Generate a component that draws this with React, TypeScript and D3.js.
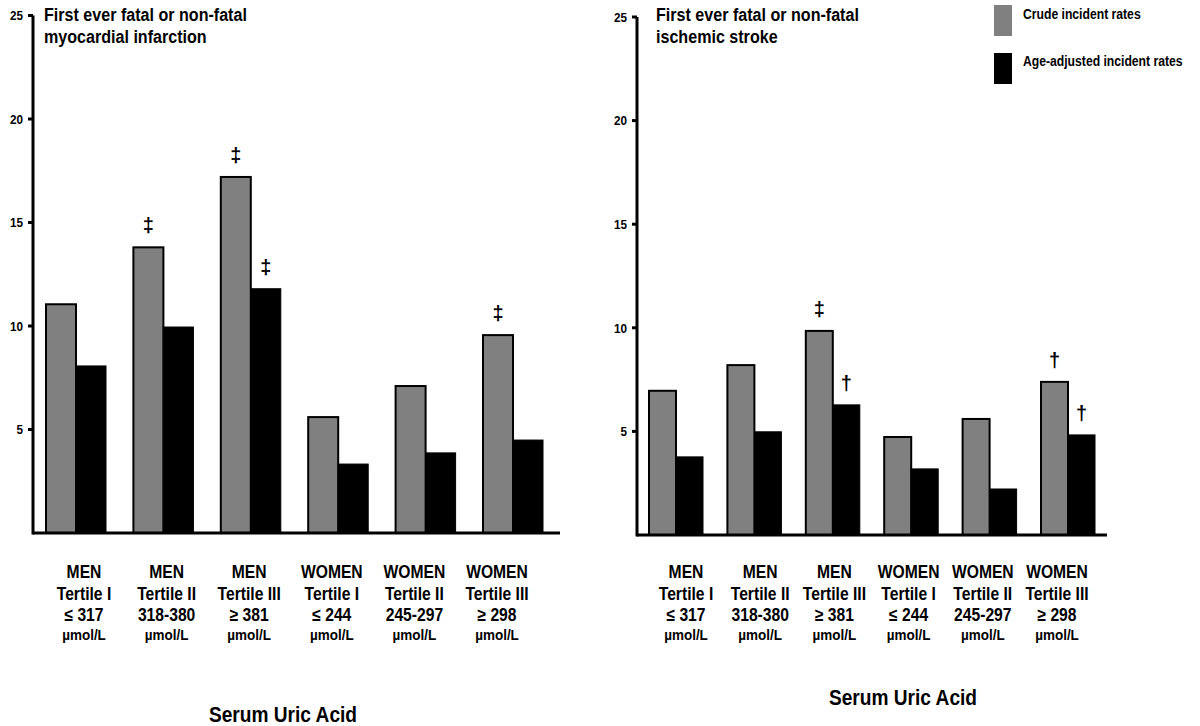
import React from "react";
import * as d3 from "d3";

const categories = ["MEN|Tertile I|≤ 317|µmol/L", "MEN|Tertile II|318-380|µmol/L", "MEN|Tertile III|≥ 381|µmol/L", "WOMEN|Tertile I|≤ 244|µmol/L", "WOMEN|Tertile II|245-297|µmol/L", "WOMEN|Tertile III|≥ 298|µmol/L"];
const yTicks = [5, 10, 15, 20, 25];

const miCrude = [11.05, 13.8, 17.2, 5.6, 7.1, 9.56];
const miAdjusted = [8.07, 9.95, 11.8, 3.33, 3.87, 4.49];
const miCrudeMarks = ["", "‡", "‡", "", "", "‡"];
const miAdjustedMarks = ["", "", "‡", "", "", ""];

const strokeCrude = [6.96, 8.2, 9.85, 4.73, 5.6, 7.39];
const strokeAdjusted = [3.77, 4.98, 6.28, 3.19, 2.22, 4.83];
const strokeCrudeMarks = ["", "", "‡", "", "", "†"];
const strokeAdjustedMarks = ["", "", "†", "", "", "†"];

const seriesNames = ["Crude incident rates", "Age-adjusted incident rates"];
const seriesColors = ["#808080", "#000000"];
const xTitle = "Serum Uric Acid";

const FONT = "'Liberation Sans', Arial, sans-serif";
const SX = 0.87;

function NText(props: { x: number; y: number; size: number; anchor?: string; dy?: string; children: React.ReactNode }) {
  return (
    <text
      transform={`translate(${props.x},${props.y}) scale(${SX},1)`}
      dy={props.dy}
      textAnchor={props.anchor || "start"}
      fontFamily={FONT}
      fontWeight="bold"
      fontSize={props.size}
      fill="#000"
    >
      {props.children}
    </text>
  );
}

type PanelProps = {
  title: string[];
  crude: number[];
  adjusted: number[];
  crudeMarks: string[];
  adjustedMarks: string[];
  axisX: number;
  yTop: number;
  yBase: number;
  barRange: [number, number];
  labelRange: [number, number];
  barW: number;
  baseEnd: number;
  titleX: number;
  xTitleX: number;
  xTitleY: number;
};

function Panel(p: PanelProps) {
  const y = d3.scaleLinear().domain([0, 25]).range([p.yBase, p.yTop]);
  const xb = d3.scalePoint<string>().domain(categories).range(p.barRange);
  const xl = d3.scalePoint<string>().domain(categories).range(p.labelRange);
  const labelYs = [578, 600, 621, 640];
  const labelSizes = [18, 18, 18, 15.5];
  return (
    <g>
      {p.title.map((t, i) => (
        <NText key={i} x={p.titleX} y={21 + i * 22} size={18.5}>
          {t}
        </NText>
      ))}
      {yTicks.map((t) => (
        <g key={t}>
          <line x1={p.axisX - 5} x2={p.axisX} y1={y(t)} y2={y(t)} stroke="#000" strokeWidth={3} />
          <NText x={p.axisX - 10} y={y(t)} dy="0.35em" anchor="end" size={13.5}>
            {t}
          </NText>
        </g>
      ))}
      {categories.map((c, i) => {
        const cx = xb(c)!;
        const vc = p.crude[i];
        const va = p.adjusted[i];
        return (
          <g key={c}>
            <rect x={cx - p.barW} y={y(vc)} width={p.barW} height={y(0) - y(vc)} fill={seriesColors[0]} stroke="#000" strokeWidth={2} />
            <rect x={cx} y={y(va)} width={p.barW} height={y(0) - y(va)} fill={seriesColors[1]} stroke="#000" strokeWidth={1} />
            {p.crudeMarks[i] && (
              <text x={cx - p.barW / 2} y={y(vc) - 22} dy="0.35em" textAnchor="middle" fontFamily={FONT} fontWeight="bold" fontSize={20}>
                {p.crudeMarks[i]}
              </text>
            )}
            {p.adjustedMarks[i] && (
              <text x={cx + p.barW / 2} y={y(va) - 22} dy="0.35em" textAnchor="middle" fontFamily={FONT} fontWeight="bold" fontSize={20}>
                {p.adjustedMarks[i]}
              </text>
            )}
          </g>
        );
      })}
      <line x1={p.axisX} x2={p.axisX} y1={p.yTop} y2={p.yBase + 1.5} stroke="#000" strokeWidth={3} />
      <line x1={p.axisX} x2={p.baseEnd} y1={p.yBase} y2={p.yBase} stroke="#000" strokeWidth={3} />
      {categories.map((c) => (
        <g key={c}>
          {c.split("|").map((line, j) => (
            <NText key={j} x={xl(c)!} y={labelYs[j]} size={labelSizes[j]} anchor="middle">
              {line}
            </NText>
          ))}
        </g>
      ))}
      <NText x={p.xTitleX} y={p.xTitleY} anchor="middle" size={22}>
        {xTitle}
      </NText>
    </g>
  );
}

export default function App() {
  return (
    <svg width={1200} height={726} style={{ position: "absolute", left: 0, top: 0, background: "#fff" }}>
      <rect width={1200} height={726} fill="#fff" />
      <Panel
        title={["First ever fatal or non-fatal", "myocardial infarction"]}
        crude={miCrude}
        adjusted={miAdjusted}
        crudeMarks={miCrudeMarks}
        adjustedMarks={miAdjustedMarks}
        axisX={33}
        yTop={15.5}
        yBase={533}
        barRange={[76, 513]}
        labelRange={[84, 497]}
        barW={30}
        baseEnd={560}
        titleX={44}
        xTitleX={283}
        xTitleY={722}
      />
      <Panel
        title={["First ever fatal or non-fatal", "ischemic stroke"]}
        crude={strokeCrude}
        adjusted={strokeAdjusted}
        crudeMarks={strokeCrudeMarks}
        adjustedMarks={strokeAdjustedMarks}
        axisX={637}
        yTop={17}
        yBase={535}
        barRange={[676, 1068]}
        labelRange={[686, 1057]}
        barW={27}
        baseEnd={1107}
        titleX={656}
        xTitleX={903}
        xTitleY={705}
      />
      {seriesNames.map((s, i) => (
        <g key={s}>
          <rect x={994} y={5 + i * 48} width={18} height={31} fill={seriesColors[i]} />
          <NText x={1023} y={14.5 + i * 46.5} dy="0.35em" size={14}>
            {s}
          </NText>
        </g>
      ))}
    </svg>
  );
}
